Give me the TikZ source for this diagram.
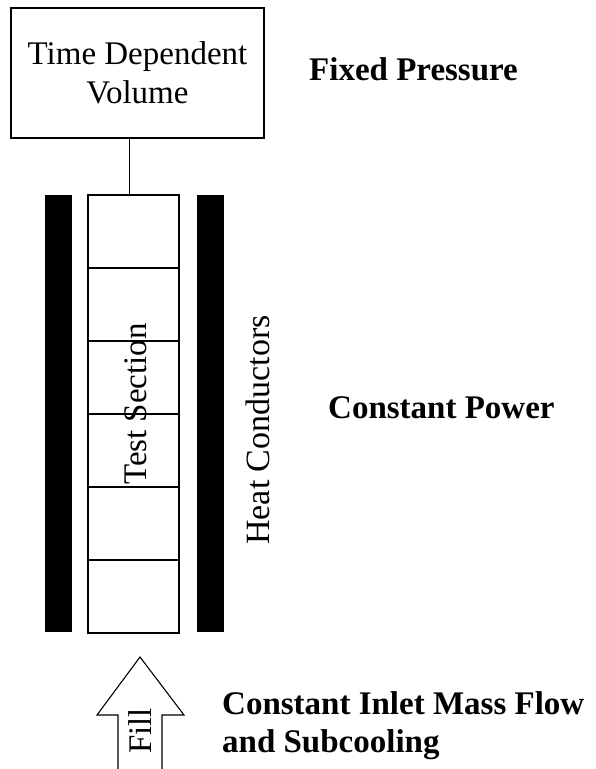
\documentclass[tikz,border=0pt]{standalone}
\usepackage{fontspec}
\setmainfont{Liberation Serif}
\usetikzlibrary{positioning}

\begin{document}
\begin{tikzpicture}[
  x=1pt,y=-1pt,
  txt/.style={font=\fontsize{33}{39}\selectfont},
  head/.style={font=\fontsize{33}{38}\selectfont\bfseries,anchor=base west,align=left,inner sep=0pt},
  cell/.style={draw,line width=1.3pt,minimum width=91pt,minimum height=73pt,inner sep=0pt},
  bar/.style={fill=black,minimum width=27pt,minimum height=437pt,inner sep=0pt}
]
  \useasboundingbox (0,0) rectangle (595,769);
  % volume at the top
  \node[draw,line width=1.1pt,txt,align=center,minimum width=253pt,minimum height=130pt,inner sep=0pt] (vol) at (137.5,73) {Time Dependent\\Volume};
  % test section cells
  \foreach \i in {1,...,6}
    \node[cell] (c\i) at (133.5,{195+36.5+73*(\i-1)}) {};
  \node[bar] (lbar) at (58.5,413.5) {};
  \node[bar] (rbar) at (210,413.5) {};
  \coordinate (tap) at (129,195);
  \draw[line width=1pt] (tap |- vol.south) -- (tap);
  \node[txt,rotate=90] (ts) at (136,404) {Test Section};
  \node[txt,font=\fontsize{34}{39}\selectfont,rotate=90] (hc) at (258,430) {Heat Conductors};
  % inlet arrow
  \draw[line width=1.1pt] (118,769) -- (118,715) -- (97,715) -- (140,657) -- (184,715) -- (162,715) -- (162,769);
  \node[txt,rotate=90] (fill) at (140,731) {Fill};
  % boundary conditions
  \node[head] (fp) at (309,80) {Fixed Pressure};
  \node[head] (cp) at (328,418) {Constant Power};
  \node[head,anchor=west] (cim) at (222,726) {Constant Inlet Mass Flow\\and Subcooling};
\end{tikzpicture}
\end{document}
